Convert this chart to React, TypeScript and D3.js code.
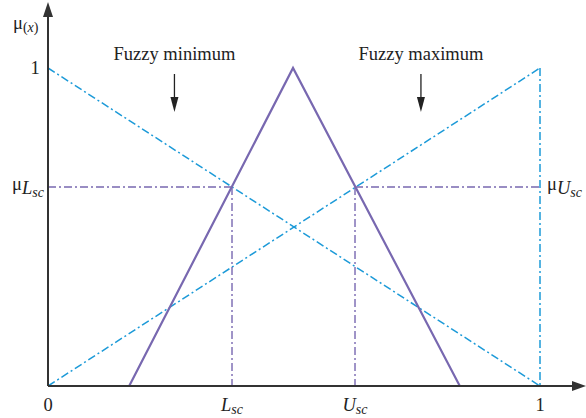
import React from 'react';
import * as d3 from 'd3';

// values (x and membership in [0, 1])
const triangleX = [0.165, 0.498, 0.837];
const triangleY = [0, 1, 0];
const fuzzyMinX = [0, 1];
const fuzzyMinY = [1, 0];
const fuzzyMaxX = [0, 1];
const fuzzyMaxY = [0, 1];
const lsc = 0.374;
const usc = 0.624;
const muLevel = 0.626;
const xTicks = [
  { v: 0, main: '0', sub: '' },
  { v: lsc, main: 'L', sub: 'sc' },
  { v: usc, main: 'U', sub: 'sc' },
  { v: 1, main: '1', sub: '' },
];
const labels = [
  { text: 'Fuzzy minimum', x: 0.257 },
  { text: 'Fuzzy maximum', x: 0.758 },
];

const W = 586;
const H = 418;
const FONT = '"Liberation Serif", "DejaVu Serif", serif';
const PURPLE = '#7868b0';
const CYAN = '#1c9ad8';
const AXIS = '#333333';
const DASHDOT = '8 3 2 3';

const App = () => {
  const x = d3.scaleLinear().domain([0, 1]).range([48, 540]);
  const y = d3.scaleLinear().domain([0, 1]).range([386, 68]);

  const line = d3.line<[number, number]>()
    .x(d => x(d[0]))
    .y(d => y(d[1]));

  const zip = (xs: number[], ys: number[]) => xs.map((v, i) => [v, ys[i]] as [number, number]);

  const x0 = x(0);
  const y0 = y(0);

  return (
    <svg width={W} height={H} style={{ position: 'absolute', left: 0, top: 0 }}>
      {/* cyan dash-dot lines */}
      <path d={line(zip(fuzzyMinX, fuzzyMinY)) || ''} fill="none" stroke={CYAN} strokeWidth={1.5} strokeDasharray={DASHDOT} />
      <path d={line(zip(fuzzyMaxX, fuzzyMaxY)) || ''} fill="none" stroke={CYAN} strokeWidth={1.5} strokeDasharray={DASHDOT} />
      <path d={line([[1, 1], [1, 0]]) || ''} fill="none" stroke={CYAN} strokeWidth={1.5} strokeDasharray={DASHDOT} />

      {/* purple guide lines */}
      <path d={line([[0, muLevel], [lsc, muLevel]]) || ''} fill="none" stroke={PURPLE} strokeWidth={1.4} strokeDasharray={DASHDOT} />
      <path d={line([[usc, muLevel], [1, muLevel]]) || ''} fill="none" stroke={PURPLE} strokeWidth={1.4} strokeDasharray={DASHDOT} />
      <path d={line([[lsc, muLevel], [lsc, 0]]) || ''} fill="none" stroke={PURPLE} strokeWidth={1.4} strokeDasharray={DASHDOT} />
      <path d={line([[usc, muLevel], [usc, 0]]) || ''} fill="none" stroke={PURPLE} strokeWidth={1.4} strokeDasharray={DASHDOT} />

      {/* triangle */}
      <path d={line(zip(triangleX, triangleY)) || ''} fill="none" stroke={PURPLE} strokeWidth={2.2} strokeLinejoin="miter" />

      {/* axes */}
      <line x1={x0} y1={y0} x2={574} y2={y0} stroke={AXIS} strokeWidth={2} />
      <polygon points={`586,${y0} 572,${y0 - 5} 572,${y0 + 5}`} fill={AXIS} />
      <line x1={x0} y1={y0} x2={x0} y2={14} stroke={AXIS} strokeWidth={2} />
      <polygon points={`${x0},2 ${x0 - 5},17 ${x0 + 5},17`} fill={AXIS} />

      {/* y labels */}
      <g fontFamily={FONT} fill="#222" fontSize={18.5}>
        <text x={13} y={29}>μ<tspan fontSize={14} dy={3}>(</tspan><tspan fontSize={14} fontStyle="italic">x</tspan><tspan fontSize={14}>)</tspan></text>
        <text x={35} y={y(1) + 6} textAnchor="middle">1</text>
        <text x={12} y={y(muLevel) + 3}>μ<tspan fontStyle="italic" dy={4}>L</tspan><tspan fontStyle="italic" fontSize={14} dy={3}>sc</tspan></text>
        <text x={547} y={y(muLevel) + 3}>μ<tspan fontStyle="italic" dy={4}>U</tspan><tspan fontStyle="italic" fontSize={14} dy={3}>sc</tspan></text>

        {xTicks.map(t => (
          <text key={t.main + t.v} x={x(t.v)} y={411} textAnchor="middle">
            <tspan fontStyle={t.sub ? 'italic' : 'normal'}>{t.main}</tspan>
            {t.sub && <tspan fontSize={14} fontStyle="italic" dy={3}>{t.sub}</tspan>}
          </text>
        ))}

        {labels.map(l => (
          <g key={l.text}>
            <text x={x(l.x)} y={60} textAnchor="middle">{l.text}</text>
            <line x1={x(l.x)} y1={74} x2={x(l.x)} y2={100} stroke="#222" strokeWidth={1.3} />
            <polygon points={`${x(l.x)},112 ${x(l.x) - 4},97 ${x(l.x) + 4},97`} fill="#222" />
          </g>
        ))}
      </g>
    </svg>
  );
};

export default App;
